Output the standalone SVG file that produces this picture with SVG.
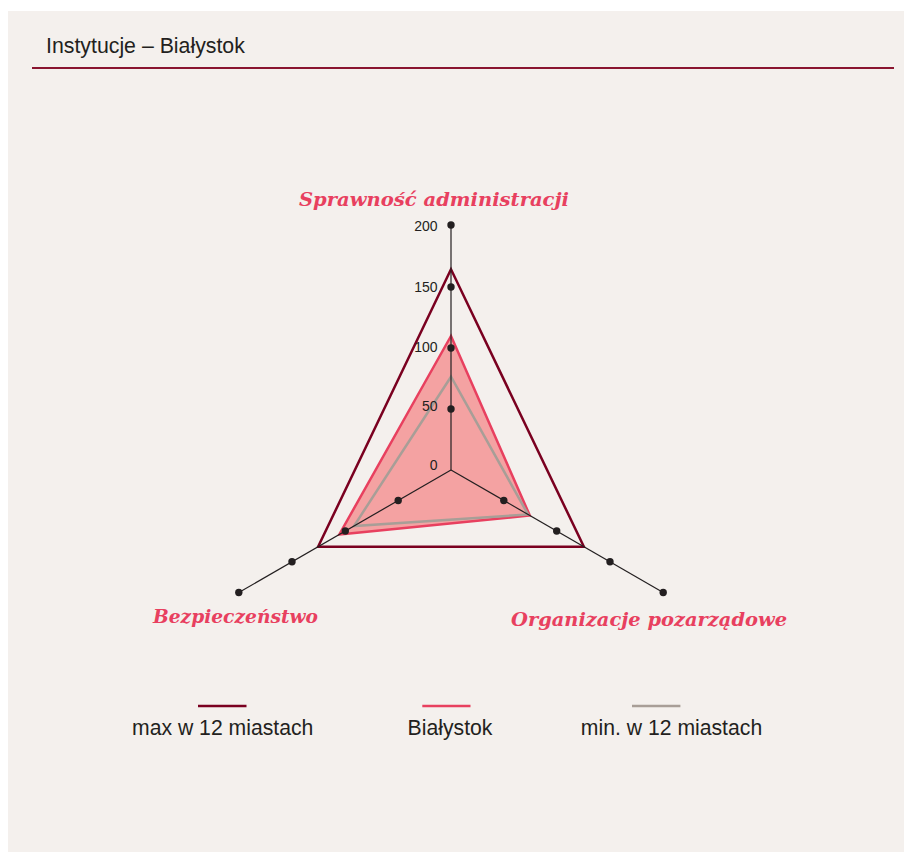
<svg xmlns="http://www.w3.org/2000/svg" width="904" height="852" viewBox="0 0 904 852">
<style>
.sans{font-family:"Liberation Sans",Arial,sans-serif;fill:#231f20}
.title{font-size:21.3px}
.tick{font-size:14px;text-anchor:end}
.leg{font-size:21.2px;text-anchor:middle}
.cat{font-family:"DejaVu Serif",Georgia,serif;font-weight:bold;font-style:italic;font-size:19.3px;fill:#e8405f}
.axis{stroke:#231f20;stroke-width:1.2;fill:none}
.dot{fill:#231f20}
</style>
<rect x="8" y="11" width="896" height="841" fill="#f4f0ed"/>
<text class="sans title" x="46" y="53">Instytucje – Białystok</text>
<line x1="32" y1="68" x2="894" y2="68" stroke="#8a1530" stroke-width="2"/>

<g id="series">
<polygon id="bialystok" points="451,336 339.3,534.5 529.8,515.5" fill="#f4a2a2" stroke="#e8405f" stroke-width="2.5" stroke-linejoin="miter"/>
<polygon id="min" points="451,376.7 354,526 528.1,514.5" fill="none" stroke="#a89e97" stroke-width="2.5"/>
<polygon id="max" points="451,269.3 318.1,546.8 583.9,546.8" fill="none" stroke="#7a0020" stroke-width="2.5"/>
</g>

<g id="axes">
<line class="axis" x1="451" y1="470" x2="451" y2="225"/>
<line class="axis" x1="451" y1="470" x2="238.8" y2="592.5"/>
<line class="axis" x1="451" y1="470" x2="663.2" y2="592.5"/>
<circle class="dot" cx="451" cy="409" r="3.7"/>
<circle class="dot" cx="451" cy="348" r="3.7"/>
<circle class="dot" cx="451" cy="287" r="3.7"/>
<circle class="dot" cx="451" cy="225" r="3.7"/>
<circle class="dot" cx="398.2" cy="500.5" r="3.7"/>
<circle class="dot" cx="345.3" cy="531" r="3.7"/>
<circle class="dot" cx="292" cy="561.8" r="3.7"/>
<circle class="dot" cx="238.8" cy="592.5" r="3.7"/>
<circle class="dot" cx="503.8" cy="500.5" r="3.7"/>
<circle class="dot" cx="556.7" cy="531" r="3.7"/>
<circle class="dot" cx="610" cy="561.8" r="3.7"/>
<circle class="dot" cx="663.2" cy="592.5" r="3.7"/>
<text class="sans tick" x="437.5" y="231">200</text>
<text class="sans tick" x="437.5" y="292">150</text>
<text class="sans tick" x="437.5" y="352">100</text>
<text class="sans tick" x="437.5" y="411">50</text>
<text class="sans tick" x="437.5" y="470">0</text>
</g>

<g id="labels">
<text class="cat" x="299" y="206" textLength="270" lengthAdjust="spacingAndGlyphs">Sprawność administracji</text>
<text class="cat" x="153" y="623" textLength="165" lengthAdjust="spacingAndGlyphs">Bezpieczeństwo</text>
<text class="cat" x="511" y="626" textLength="276" lengthAdjust="spacingAndGlyphs">Organizacje pozarządowe</text>
</g>

<g id="legend">
<line x1="198" y1="706" x2="246.5" y2="706" stroke="#7a0020" stroke-width="2.5"/>
<line x1="422.3" y1="706" x2="470.5" y2="706" stroke="#e8405f" stroke-width="2.5"/>
<line x1="632" y1="706" x2="680.4" y2="706" stroke="#a89e97" stroke-width="2.5"/>
<text class="sans leg" x="222.7" y="735">max w 12 miastach</text>
<text class="sans leg" x="450" y="735">Białystok</text>
<text class="sans leg" x="671.5" y="735">min. w 12 miastach</text>
</g>
</svg>
